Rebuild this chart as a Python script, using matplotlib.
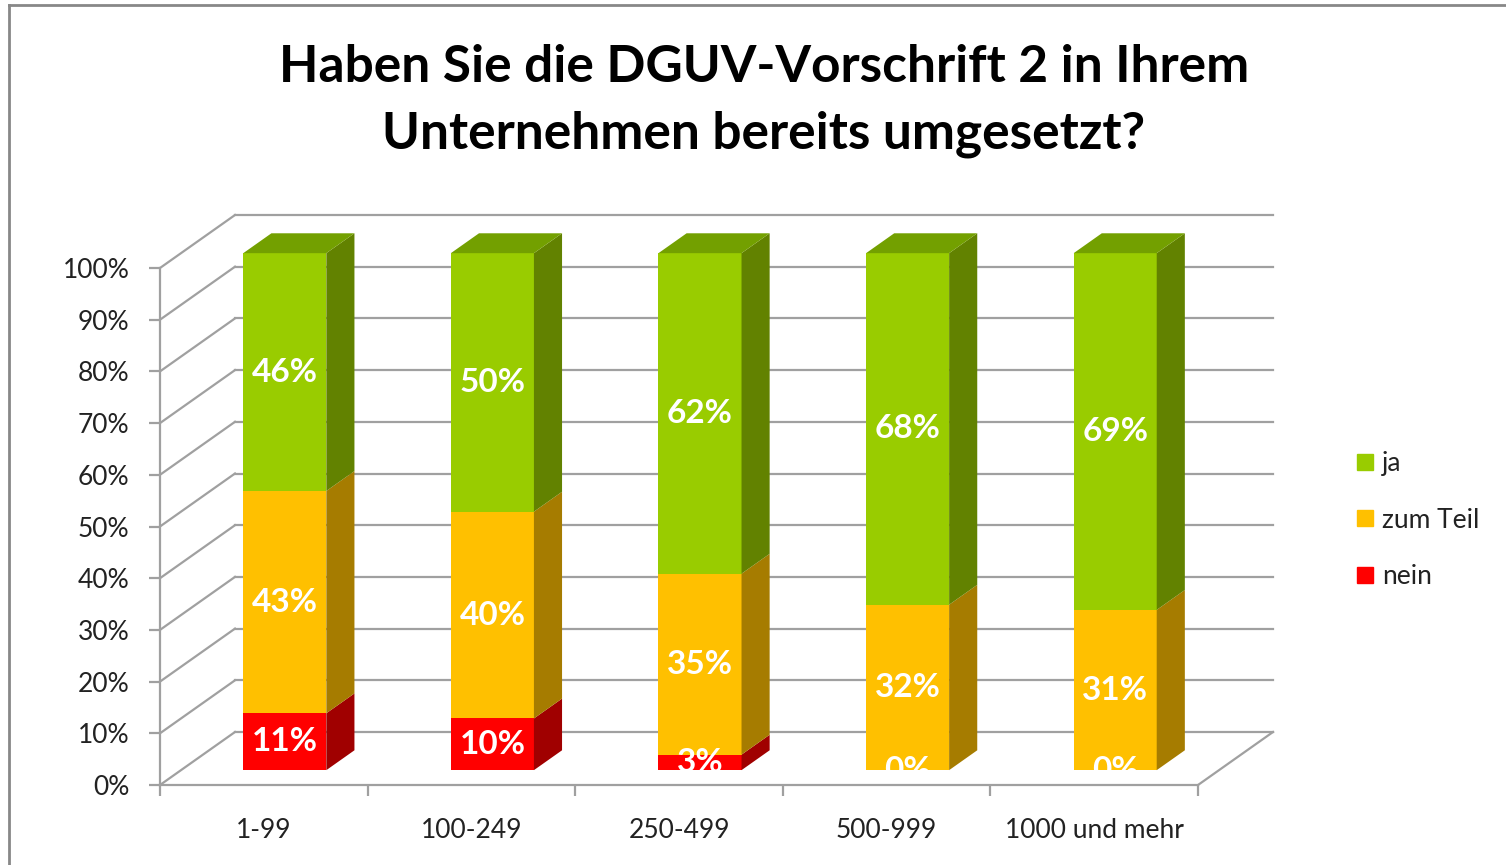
import matplotlib
matplotlib.use("Agg")
import matplotlib.pyplot as plt
from matplotlib.patches import Polygon
from matplotlib.lines import Line2D
from matplotlib.transforms import Bbox, TransformedBbox

plt.rcParams['font.family'] = ['Lato', 'DejaVu Sans']

# ---- data ----
categories = ["1-99", "100-249", "250-499", "500-999", "1000 und mehr"]
series_names = ["nein", "zum Teil", "ja"]
nein = [11, 10, 3, 0, 0]
zum_teil = [43, 40, 35, 32, 31]
ja = [46, 50, 62, 68, 69]
yticks = [0, 10, 20, 30, 40, 50, 60, 70, 80, 90, 100]
title = "Haben Sie die DGUV-Vorschrift 2 in Ihrem\nUnternehmen bereits umgesetzt?"

front_cols = {"nein": "#FF0000", "zum Teil": "#FFC000", "ja": "#99CC00"}
side_cols = {"nein": "#A00000", "zum Teil": "#A67C00", "ja": "#628200"}
top_cols = {"nein": "#B80000", "zum Teil": "#BF9000", "ja": "#73A000"}

W, H = 1506, 865
fig = plt.figure(figsize=(W / 100, H / 100), dpi=100)
ax = fig.add_axes([160 / W, 1 - 785 / H, (1198 - 160) / W, (785 - 268) / H])
ax.set_xlim(-0.5, len(categories) - 0.5)
ax.set_ylim(0, 100)
ax.patch.set_visible(False)

# depth offsets (data units for full wall depth)
DX = 75 / 207.6
DY = 53 / 5.17
d0, d1 = 0.28, 0.655
bw = 0.4
grid_c = "#A0A0A0"


def P(x, y, d):
    return (x + d * DX, y + d * DY)


# back wall + side wall gridlines
x_lo, x_hi = -0.5, len(categories) - 0.5
for v in yticks:
    ax.add_line(Line2D(*zip(P(x_lo, v, 1), P(x_hi, v, 1)), color=grid_c, lw=1.6,
                       clip_on=False, zorder=1))
    ax.add_line(Line2D(*zip(P(x_lo, v, 0), P(x_lo, v, 1)), color=grid_c, lw=1.6,
                       clip_on=False, zorder=1))
# floor right edge
ax.add_line(Line2D(*zip(P(x_hi, 0, 0), P(x_hi, 0, 1)), color=grid_c, lw=1.6,
                   clip_on=False, zorder=1))

# bars
for i, cat in enumerate(categories):
    vals = {"nein": nein[i], "zum Teil": zum_teil[i], "ja": ja[i]}
    xl, xr = i - bw / 2, i + bw / 2
    base = 0
    for s in series_names:
        v = vals[s]
        top = base + v
        if v > 0:
            front = [P(xl, base, d0), P(xr, base, d0), P(xr, top, d0), P(xl, top, d0)]
            side = [P(xr, base, d0), P(xr, base, d1), P(xr, top, d1), P(xr, top, d0)]
            ax.add_patch(Polygon(front, closed=True, fc=front_cols[s], ec='none',
                                 clip_on=False, zorder=3))
            ax.add_patch(Polygon(side, closed=True, fc=side_cols[s], ec='none',
                                 clip_on=False, zorder=3))
        base = top
    # top face of stack
    topf = [P(xl, base, d0), P(xr, base, d0), P(xr, base, d1), P(xl, base, d1)]
    ax.add_patch(Polygon(topf, closed=True, fc=top_cols["ja"], ec='none',
                         clip_on=False, zorder=3))
    # labels
    base = 0
    ybot = P(0, 0, d0)[1]
    for s in series_names:
        v = vals[s]
        cx, cy = P(i, base + v / 2, d0)
        t = ax.text(cx, cy, f"{v}%", ha='center', va='center', color='white',
                    fontsize=24, fontweight='bold', zorder=5)
        t.set_clip_path(None)
        t.set_clip_box(TransformedBbox(Bbox.from_extents(-1, ybot, 6, 200),
                                       ax.transData))
        t.set_clip_on(True)
        base += v

# axes spines / ticks
for sp in ["top", "right"]:
    ax.spines[sp].set_visible(False)
for sp in ["left", "bottom"]:
    ax.spines[sp].set_color(grid_c)
    ax.spines[sp].set_linewidth(1.6)
ax.set_yticks(yticks)
ax.set_yticklabels([f"{v}%" for v in yticks])
ax.tick_params(axis='y', length=8, width=1.6, color=grid_c, pad=14,
               labelsize=19, labelcolor='#222222')
ax.set_xticks([k - 0.5 for k in range(len(categories) + 1)])
ax.set_xticklabels([])
ax.set_xticks(range(len(categories)), minor=True)
ax.set_xticklabels(categories, minor=True)
ax.tick_params(axis='x', which='major', length=8, width=1.6, color=grid_c)
ax.tick_params(axis='x', which='minor', length=0, pad=24, labelsize=19,
               labelcolor='#222222')

# title
fig.text(764 / W, 1 - 101 / H, title, ha='center', va='center', fontsize=37,
         fontweight='bold', color='black', linespacing=1.52)

# legend
handles = [Line2D([], [], ls='none', marker='s', markersize=12,
                  mfc=front_cols[s], mec=front_cols[s]) for s in ["ja", "zum Teil", "nein"]]
fig.legend(handles, ["ja", "zum Teil", "nein"], loc='center left',
           bbox_to_anchor=(1332 / W, 1 - 520 / H), frameon=False, fontsize=19,
           labelspacing=1.2, handlelength=0.7, handletextpad=0.3,
           labelcolor='#222222')

# outer frame
fig.add_artist(Line2D([9 / W, 9 / W], [0, 1 - 5 / H], color='#888888', lw=2,
                      transform=fig.transFigure))
fig.add_artist(Line2D([9 / W, 1], [1 - 5 / H, 1 - 5 / H], color='#888888', lw=2,
                      transform=fig.transFigure))

fig.savefig("out.png", dpi=100, facecolor='white')
